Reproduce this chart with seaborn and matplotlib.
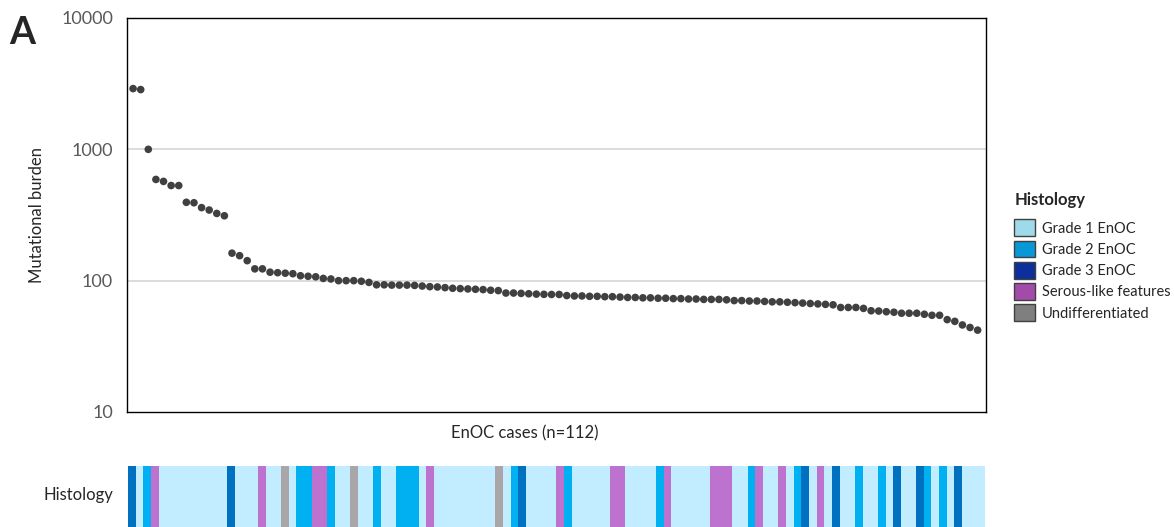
import matplotlib
matplotlib.use("Agg")
import matplotlib.pyplot as plt
from matplotlib.colors import ListedColormap
from matplotlib.patches import Patch
import numpy as np
import pandas as pd
import seaborn as sns

# mutational burden per case, sorted
burden = [2900, 2850, 1000, 590, 570, 530, 530, 395, 392, 360, 345, 325, 312,
          162, 155, 142, 123, 123, 116, 115, 114, 113, 109, 108, 107, 104, 103,
          100, 100, 100, 99, 97, 93, 93, 92.5, 92.5, 92.5, 92, 91, 90, 89.5,
          88.5, 87.5, 87, 86.5, 86, 85.5, 84.5, 84, 80.5, 80.5, 80, 79.5, 79,
          78.7, 78.5, 78.5, 77, 76.5, 76.5, 76, 76, 75.5, 75.5, 75, 74.5, 74.5,
          74, 74, 73.5, 73.5, 73, 73, 72.5, 72.5, 72, 72, 72, 71.5, 70.5, 70.5,
          70, 70, 69.5, 69, 69, 68.5, 68, 67.5, 67, 66.5, 66, 65.5, 62.5, 62.5,
          62.5, 61.5, 59, 58.7, 58, 57.5, 56.5, 56.5, 56.5, 55.5, 54.5, 54.5,
          50.5, 49, 46, 44, 42]

# histology code per case: 1=G1, 2=G2, 3=G3, 4=serous-like, 5=undiff
histology = [3, 1, 2, 4, 1, 1, 1, 1, 1, 1, 1, 1, 1, 3, 1, 1, 1, 4, 1, 1, 5, 1,
             2, 2, 4, 4, 2, 1, 1, 5, 1, 1, 2, 1, 1, 2, 2, 2, 1, 4, 1, 1, 1, 1,
             1, 1, 1, 1, 5, 1, 2, 3, 1, 1, 1, 1, 4, 2, 1, 1, 1, 1, 1, 4, 4, 1,
             1, 1, 1, 2, 4, 1, 1, 1, 1, 1, 4, 4, 4, 1, 1, 2, 4, 1, 1, 4, 1, 2,
             3, 1, 4, 1, 3, 1, 1, 2, 1, 1, 2, 1, 3, 1, 1, 3, 2, 1, 2, 1, 3, 1,
             1, 1]

legend_labels = ["Grade 1 EnOC", "Grade 2 EnOC", "Grade 3 EnOC",
                 "Serous-like features", "Undifferentiated"]
bar_colors = ["#C2ECFF", "#00B0F0", "#0070C0", "#BE72D0", "#AAA6A8"]
legend_colors = ["#9FDAEA", "#0898D8", "#0C2F9C", "#A24BA8", "#7F7F7F"]

df = pd.DataFrame({"case": np.arange(len(burden)), "burden": burden})

sns.set_style("white")
plt.rcParams["font.family"] = ["Lato", "DejaVu Sans"]

fig = plt.figure(figsize=(11.74, 5.27), dpi=100)
ax = fig.add_axes([127 / 1174, 1 - 412 / 527, 859 / 1174, 394 / 527])

sns.scatterplot(data=df, x="case", y="burden", ax=ax, color="#404040",
                s=30, edgecolor="none", zorder=3)
ax.set_yscale("log")
ax.set_ylim(10, 10000)
ax.set_xlim(-0.8, 112.1)
ax.set_yticks([10, 100, 1000, 10000])
ax.set_yticklabels(["10", "100", "1000", "10000"])
ax.minorticks_off()
ax.tick_params(axis="y", length=0, labelsize=13, labelcolor="#595959", pad=10)
ax.set_xticks([])
ax.grid(False)
for v in [100, 1000]:
    ax.axhline(v, color="#D9D9D9", lw=1.3, zorder=1)
for s in ax.spines.values():
    s.set_color("#000000")
    s.set_linewidth(1)
ax.set_xlabel("")
ax.set_ylabel("Mutational burden", fontsize=12, labelpad=12)
fig.text(525 / 1174, 1 - 433 / 527, "EnOC cases (n=112)", fontsize=12,
         ha="center", va="center")
fig.text(9 / 1174, 1 - 33 / 527, "A", fontsize=27, fontweight="bold",
         ha="left", va="center")

# histology strip
hx = fig.add_axes([128 / 1174, 0, 857 / 1174, 61 / 527])
sns.heatmap(np.array([histology]), ax=hx, cmap=ListedColormap(bar_colors),
            vmin=0.5, vmax=5.5, cbar=False, xticklabels=False,
            yticklabels=False)
fig.text(113 / 1174, 1 - 495 / 527, "Histology", fontsize=12,
         ha="right", va="center")

handles = [Patch(facecolor=c, edgecolor="#404040", lw=1) for c in legend_colors]
leg = fig.legend(handles, legend_labels, title="Histology",
                 loc="upper left", bbox_to_anchor=(1007 / 1174, 1 - 185 / 527),
                 frameon=False, fontsize=10.5, handlelength=1.4,
                 handleheight=1.4, handletextpad=0.5, labelspacing=0.3,
                 borderpad=0, alignment="left",
                 title_fontproperties={"weight": "bold", "size": 12})
leg._legend_box.sep = 8

fig.savefig("out.png", dpi=100)
